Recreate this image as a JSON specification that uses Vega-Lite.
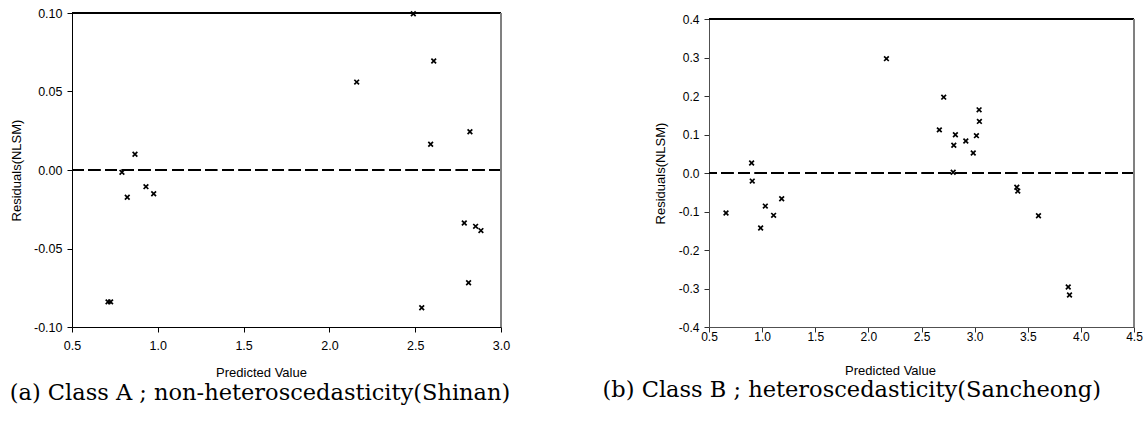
{
  "$schema": "https://vega.github.io/schema/vega-lite/v6.json",
  "autosize": "none",
  "padding": {"left": 72, "top": 13, "right": 1076, "bottom": 413},
  "background": "white",
  "bounds": "flush",
  "spacing": 208,
  "config": {
    "view": {"stroke": null},
    "axis": {
      "grid": false, "tickSize": 5, "labelFont": "Liberation Sans", "labelColor": "black",
      "labelFlush": false, "labelOverlap": false, "labelSeparation": 0,
      "titleFont": "Liberation Sans", "titleFontSize": 13, "titleFontWeight": "normal", "titleColor": "black",
      "titleBaseline": "middle"
    }
  },
  "hconcat": [
    {
      "width": 429,
      "height": 314,
      "title": {"text": "(a) Class A ; non-heteroscedasticity(Shinan)", "orient": "bottom", "font": "DejaVu Serif", "fontSize": 22.5, "fontWeight": "normal", "color": "black", "dx": -26.5, "offset": 2},
      "data": {"values": [
        {"predicted": 0.710, "residual": -0.084},
        {"predicted": 0.725, "residual": -0.084},
        {"predicted": 0.791, "residual": -0.0015},
        {"predicted": 0.822, "residual": -0.0174},
        {"predicted": 0.867, "residual": 0.010},
        {"predicted": 0.931, "residual": -0.0106},
        {"predicted": 0.976, "residual": -0.0151},
        {"predicted": 2.159, "residual": 0.056},
        {"predicted": 2.489, "residual": 0.0995},
        {"predicted": 2.538, "residual": -0.0877},
        {"predicted": 2.590, "residual": 0.0164},
        {"predicted": 2.608, "residual": 0.0694},
        {"predicted": 2.786, "residual": -0.0338},
        {"predicted": 2.811, "residual": -0.0718},
        {"predicted": 2.819, "residual": 0.0244},
        {"predicted": 2.852, "residual": -0.0359},
        {"predicted": 2.883, "residual": -0.0386}
      ]},
      "layer": [
        {
          "mark": {"type": "point", "shape": "M-1,-1L1,1M1,-1L-1,1", "size": 22, "strokeWidth": 1.7, "filled": false, "color": "black", "opacity": 1},
          "encoding": {
            "x": {
              "field": "predicted", "type": "quantitative",
              "scale": {"domain": [0.5, 3.0], "nice": false, "zero": false},
              "axis": {
                "title": "Predicted Value", "values": [0.5, 1, 1.5, 2, 2.5, 3],
                "labelExpr": "replace(format(datum.value, '.1f'), '−', '-')",
                "domainColor": "black", "tickColor": "black",
                "labelFontSize": 12.5, "labelPadding": 7,
                "titleX": 189, "titleY": 45.7
              }
            },
            "y": {
              "field": "residual", "type": "quantitative",
              "scale": {"domain": [-0.1, 0.1], "nice": false, "zero": false},
              "axis": {
                "title": "Residuals(NLSM)", "values": [-0.1, -0.05, 0, 0.05, 0.1],
                "labelExpr": "replace(format(datum.value, '.2f'), '−', '-')",
                "domainColor": "black", "tickColor": "black",
                "labelFontSize": 12.5, "labelPadding": 5,
                "titleX": -56
              }
            }
          }
        },
        {
          "mark": {"type": "rule", "color": "black", "strokeWidth": 1, "strokeDash": [11.7, 5]},
          "encoding": {"y": {"datum": 0, "type": "quantitative"}}
        },
        {
          "mark": {"type": "rule", "color": "black", "strokeWidth": 1},
          "encoding": {"y": {"datum": 0.1, "type": "quantitative"}}
        },
        {
          "mark": {"type": "rule", "color": "#808080", "strokeWidth": 1},
          "encoding": {
            "x": {"datum": 3.0, "type": "quantitative"},
            "y": {"datum": -0.1, "type": "quantitative"},
            "y2": {"datum": 0.1}
          }
        }
      ]
    },
    {
      "width": 425,
      "height": 314,
      "title": {"text": "(b) Class B ; heteroscedasticity(Sancheong)", "orient": "bottom", "font": "DejaVu Serif", "fontSize": 22.5, "fontWeight": "normal", "color": "black", "dx": -69.7, "offset": 2},
      "data": {"values": [
        {"predicted": 0.660, "residual": -0.104},
        {"predicted": 0.901, "residual": 0.026},
        {"predicted": 0.907, "residual": -0.021},
        {"predicted": 0.986, "residual": -0.143},
        {"predicted": 1.030, "residual": -0.086},
        {"predicted": 1.108, "residual": -0.110},
        {"predicted": 1.184, "residual": -0.067},
        {"predicted": 2.170, "residual": 0.297},
        {"predicted": 2.668, "residual": 0.112},
        {"predicted": 2.709, "residual": 0.197},
        {"predicted": 2.798, "residual": 0.002},
        {"predicted": 2.804, "residual": 0.072},
        {"predicted": 2.819, "residual": 0.0995},
        {"predicted": 2.917, "residual": 0.083},
        {"predicted": 2.987, "residual": 0.052},
        {"predicted": 3.017, "residual": 0.097},
        {"predicted": 3.042, "residual": 0.164},
        {"predicted": 3.045, "residual": 0.134},
        {"predicted": 3.397, "residual": -0.037},
        {"predicted": 3.406, "residual": -0.047},
        {"predicted": 3.601, "residual": -0.111},
        {"predicted": 3.881, "residual": -0.296},
        {"predicted": 3.893, "residual": -0.317}
      ]},
      "layer": [
        {
          "mark": {"type": "point", "shape": "M-1,-1L1,1M1,-1L-1,1", "size": 22, "strokeWidth": 1.7, "filled": false, "color": "black", "opacity": 1},
          "encoding": {
            "x": {
              "field": "predicted", "type": "quantitative",
              "scale": {"domain": [0.5, 4.5], "nice": false, "zero": false},
              "axis": {
                "title": "Predicted Value", "values": [0.5, 1, 1.5, 2, 2.5, 3, 3.5, 4, 4.5],
                "labelExpr": "replace(format(datum.value, '.1f'), '−', '-')",
                "domainColor": "#505050", "tickColor": "#303030",
                "labelFontSize": 12, "labelPadding": -1,
                "titleX": 181, "titleY": 43.4
              }
            },
            "y": {
              "field": "residual", "type": "quantitative",
              "scale": {"domain": [-0.4, 0.4], "range": [314, 6], "nice": false, "zero": false},
              "axis": {
                "title": "Residuals(NLSM)", "values": [-0.4, -0.3, -0.2, -0.1, 0, 0.1, 0.2, 0.3, 0.4],
                "tickCount": 9,
                "labelExpr": "replace(format(datum.value, '.1f'), '−', '-')",
                "domainColor": "#505050", "tickColor": "#303030",
                "labelFontSize": 12, "labelPadding": 5,
                "titleX": -48.7
              }
            }
          }
        },
        {
          "mark": {"type": "rule", "color": "black", "strokeWidth": 1, "strokeDash": [11.7, 5]},
          "encoding": {"y": {"datum": 0, "type": "quantitative"}}
        },
        {
          "mark": {"type": "rule", "color": "black", "strokeWidth": 1},
          "encoding": {"y": {"datum": 0.4, "type": "quantitative"}}
        },
        {
          "mark": {"type": "rule", "color": "#808080", "strokeWidth": 1},
          "encoding": {
            "x": {"datum": 4.5, "type": "quantitative"},
            "y": {"datum": -0.4, "type": "quantitative"},
            "y2": {"datum": 0.4}
          }
        }
      ]
    }
  ]
}
